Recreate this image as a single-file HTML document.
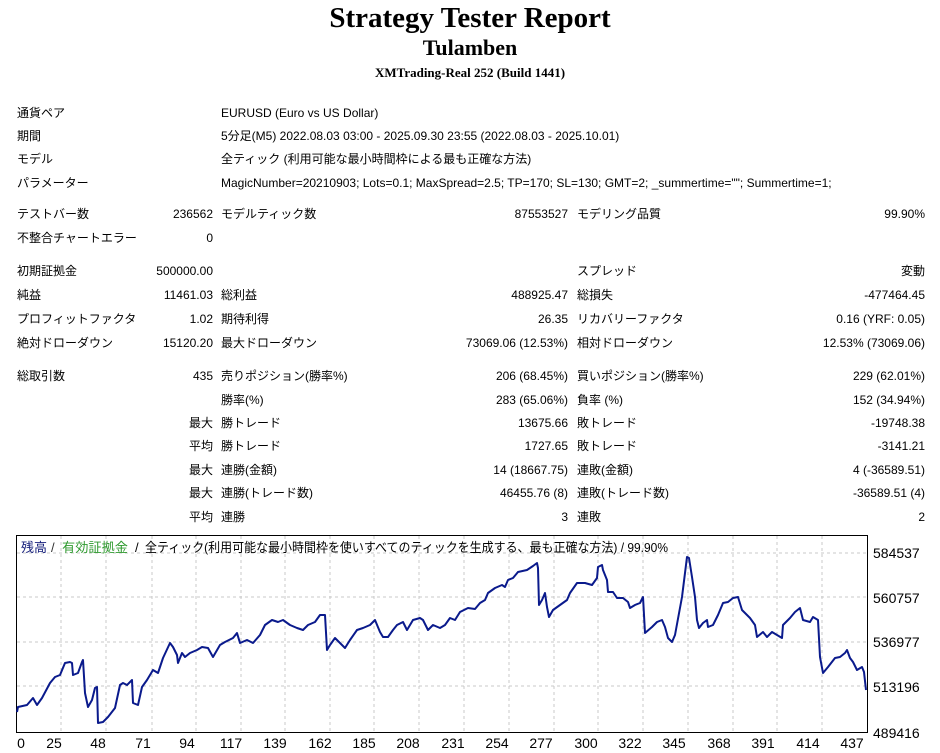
<!DOCTYPE html>
<html><head><meta charset="utf-8"><style>
body{margin:0;width:940px;height:753px;background:#fff;position:relative;overflow:hidden;font-family:"Liberation Sans","Noto Sans CJK JP",sans-serif;font-size:12px;color:#000}
.t{position:absolute;white-space:nowrap;line-height:14px}
.r{text-align:right}
h1,h2,h3{margin:0;position:absolute;left:0;width:940px;text-align:center;font-family:"Liberation Serif",serif;font-weight:bold}
</style></head><body>
<h1 style="top:2px;font-size:29px">Strategy Tester Report</h1>
<h2 style="top:35px;font-size:22px">Tulamben</h2>
<h3 style="top:65px;font-size:13px">XMTrading-Real 252 (Build 1441)</h3>
<div class="t" style="left:17px;top:106px">通貨ペア</div><div class="t" style="left:221px;top:106px">EURUSD (Euro vs US Dollar)</div>
<div class="t" style="left:17px;top:129px">期間</div><div class="t" style="left:221px;top:129px">5分足(M5) 2022.08.03 03:00 - 2025.09.30 23:55 (2022.08.03 - 2025.10.01)</div>
<div class="t" style="left:17px;top:152px">モデル</div><div class="t" style="left:221px;top:152px">全ティック (利用可能な最小時間枠による最も正確な方法)</div>
<div class="t" style="left:17px;top:176px">パラメーター</div><div class="t" style="left:221px;top:176px">MagicNumber=20210903; Lots=0.1; MaxSpread=2.5; TP=170; SL=130; GMT=2; _summertime=""; Summertime=1;</div>

<div class="t" style="left:17px;top:207px">テストバー数</div><div class="t r" style="right:727px;top:207px">236562</div><div class="t" style="left:221px;top:207px">モデルティック数</div><div class="t r" style="right:372px;top:207px">87553527</div><div class="t" style="left:577px;top:207px">モデリング品質</div><div class="t r" style="right:15px;top:207px">99.90%</div>
<div class="t" style="left:17px;top:231px">不整合チャートエラー</div><div class="t r" style="right:727px;top:231px">0</div>

<div class="t" style="left:17px;top:264px">初期証拠金</div><div class="t r" style="right:727px;top:264px">500000.00</div><div class="t" style="left:577px;top:264px">スプレッド</div><div class="t r" style="right:15px;top:264px">変動</div>
<div class="t" style="left:17px;top:288px">純益</div><div class="t r" style="right:727px;top:288px">11461.03</div><div class="t" style="left:221px;top:288px">総利益</div><div class="t r" style="right:372px;top:288px">488925.47</div><div class="t" style="left:577px;top:288px">総損失</div><div class="t r" style="right:15px;top:288px">-477464.45</div>
<div class="t" style="left:17px;top:312px">プロフィットファクタ</div><div class="t r" style="right:727px;top:312px">1.02</div><div class="t" style="left:221px;top:312px">期待利得</div><div class="t r" style="right:372px;top:312px">26.35</div><div class="t" style="left:577px;top:312px">リカバリーファクタ</div><div class="t r" style="right:15px;top:312px">0.16 (YRF: 0.05)</div>
<div class="t" style="left:17px;top:336px">絶対ドローダウン</div><div class="t r" style="right:727px;top:336px">15120.20</div><div class="t" style="left:221px;top:336px">最大ドローダウン</div><div class="t r" style="right:372px;top:336px">73069.06 (12.53%)</div><div class="t" style="left:577px;top:336px">相対ドローダウン</div><div class="t r" style="right:15px;top:336px">12.53% (73069.06)</div>

<div class="t" style="left:17px;top:369px">総取引数</div><div class="t r" style="right:727px;top:369px">435</div><div class="t" style="left:221px;top:369px">売りポジション(勝率%)</div><div class="t r" style="right:372px;top:369px">206 (68.45%)</div><div class="t" style="left:577px;top:369px">買いポジション(勝率%)</div><div class="t r" style="right:15px;top:369px">229 (62.01%)</div>
<div class="t" style="left:221px;top:393px">勝率(%)</div><div class="t r" style="right:372px;top:393px">283 (65.06%)</div><div class="t" style="left:577px;top:393px">負率 (%)</div><div class="t r" style="right:15px;top:393px">152 (34.94%)</div>
<div class="t r" style="right:727px;top:416px">最大</div><div class="t" style="left:221px;top:416px">勝トレード</div><div class="t r" style="right:372px;top:416px">13675.66</div><div class="t" style="left:577px;top:416px">敗トレード</div><div class="t r" style="right:15px;top:416px">-19748.38</div>
<div class="t r" style="right:727px;top:439px">平均</div><div class="t" style="left:221px;top:439px">勝トレード</div><div class="t r" style="right:372px;top:439px">1727.65</div><div class="t" style="left:577px;top:439px">敗トレード</div><div class="t r" style="right:15px;top:439px">-3141.21</div>
<div class="t r" style="right:727px;top:463px">最大</div><div class="t" style="left:221px;top:463px">連勝(金額)</div><div class="t r" style="right:372px;top:463px">14 (18667.75)</div><div class="t" style="left:577px;top:463px">連敗(金額)</div><div class="t r" style="right:15px;top:463px">4 (-36589.51)</div>
<div class="t r" style="right:727px;top:486px">最大</div><div class="t" style="left:221px;top:486px">連勝(トレード数)</div><div class="t r" style="right:372px;top:486px">46455.76 (8)</div><div class="t" style="left:577px;top:486px">連敗(トレード数)</div><div class="t r" style="right:15px;top:486px">-36589.51 (4)</div>
<div class="t r" style="right:727px;top:510px">平均</div><div class="t" style="left:221px;top:510px">連勝</div><div class="t r" style="right:372px;top:510px">3</div><div class="t" style="left:577px;top:510px">連敗</div><div class="t r" style="right:15px;top:510px">2</div>

<svg style="position:absolute;left:0;top:0" width="940" height="753" font-family="Liberation Sans, Noto Sans CJK JP, sans-serif" font-size="13">
<g stroke="#c8c8c8" stroke-dasharray="3,3" stroke-width="1">
<line x1="17" y1="553" x2="867" y2="553"/><line x1="17" y1="597" x2="867" y2="597"/><line x1="17" y1="642" x2="867" y2="642"/><line x1="17" y1="686" x2="867" y2="686"/>
<line x1="61" y1="536" x2="61" y2="732"/><line x1="106" y1="536" x2="106" y2="732"/><line x1="152" y1="536" x2="152" y2="732"/><line x1="196" y1="536" x2="196" y2="732"/><line x1="241" y1="536" x2="241" y2="732"/><line x1="285" y1="536" x2="285" y2="732"/><line x1="330" y1="536" x2="330" y2="732"/><line x1="374" y1="536" x2="374" y2="732"/><line x1="419" y1="536" x2="419" y2="732"/><line x1="464" y1="536" x2="464" y2="732"/><line x1="509" y1="536" x2="509" y2="732"/><line x1="554" y1="536" x2="554" y2="732"/><line x1="598" y1="536" x2="598" y2="732"/><line x1="643" y1="536" x2="643" y2="732"/><line x1="688" y1="536" x2="688" y2="732"/><line x1="733" y1="536" x2="733" y2="732"/><line x1="777" y1="536" x2="777" y2="732"/><line x1="822" y1="536" x2="822" y2="732"/>
</g>
<rect x="16.5" y="535.5" width="851" height="197" fill="none" stroke="#000"/>
<polyline fill="none" stroke="#0a1a8c" stroke-width="2" stroke-linejoin="round" points="17,712 18,707 27,705 33,698 37,705 42,698 50,683 55,677 60,675 65,663 70,662 72,663 73,675 78,673 82,662 83,660 85,693 88,707 92,700 95,688 97,687 98,723 103,722 108,717 115,708 120,685 123,683 127,685 132,680 133,703 138,705 142,687 147,680 153,670 158,673 163,658 170,643 173,647 177,655 178,663 182,653 185,657 190,653 197,650 202,647 208,648 213,657 220,645 225,642 233,638 237,633 240,643 247,640 253,643 260,635 265,625 272,620 278,622 283,620 290,625 297,628 303,630 308,625 315,622 320,615 325,615 327,650 330,645 335,638 340,643 345,648 350,640 357,630 363,628 370,625 375,620 380,632 383,637 388,637 393,630 397,625 403,622 407,630 413,620 420,618 423,620 428,630 433,625 440,628 445,625 450,618 455,620 460,612 468,608 475,609 480,603 485,600 488,593 495,588 502,585 505,587 508,580 513,578 518,572 527,570 533,566 537,563 538,568 539,605 542,600 545,593 547,607 549,617 553,610 560,605 567,600 570,593 577,583 585,583 592,585 597,578 598,567 602,565 603,570 607,580 608,592 613,592 617,598 623,598 628,602 630,608 635,605 640,603 643,597 645,633 652,627 657,622 662,620 665,627 668,638 672,642 675,635 682,597 687,557 689,558 692,577 695,597 697,620 699,628 703,623 707,620 708,627 713,625 718,615 723,603 728,602 733,598 738,597 742,610 745,613 750,618 755,625 757,637 763,632 767,637 772,632 777,635 782,638 783,625 790,618 795,612 800,608 803,620 810,622 813,617 818,620 820,657 823,673 828,667 835,658 840,657 845,653 847,650 850,658 853,662 857,670 862,667 864,672 866,690"/>
<g font-size="13">
<text x="21" y="552" fill="#1a237e">残高</text><text x="51" y="552" fill="#333">/</text><text x="62" y="552" fill="#2e9a2e" textLength="66" lengthAdjust="spacingAndGlyphs">有効証拠金</text><text x="135" y="552" fill="#000">/</text><text x="145" y="552" fill="#000" textLength="523" lengthAdjust="spacingAndGlyphs">全ティック(利用可能な最小時間枠を使いすべてのティックを生成する、最も正確な方法) / 99.90%</text>
</g>
<g fill="#000" font-size="14">
<text x="873" y="558">584537</text><text x="873" y="603">560757</text><text x="873" y="647">536977</text><text x="873" y="692">513196</text><text x="873" y="738">489416</text>
</g>
<g fill="#000" font-size="14" text-anchor="middle">
<text x="21" y="748">0</text><text x="54" y="748">25</text><text x="98" y="748">48</text><text x="143" y="748">71</text><text x="187" y="748">94</text><text x="231" y="748">117</text><text x="275" y="748">139</text><text x="320" y="748">162</text><text x="364" y="748">185</text><text x="408" y="748">208</text><text x="453" y="748">231</text><text x="497" y="748">254</text><text x="541" y="748">277</text><text x="586" y="748">300</text><text x="630" y="748">322</text><text x="674" y="748">345</text><text x="719" y="748">368</text><text x="763" y="748">391</text><text x="808" y="748">414</text><text x="852" y="748">437</text>
</g>
</svg>
</body></html>
